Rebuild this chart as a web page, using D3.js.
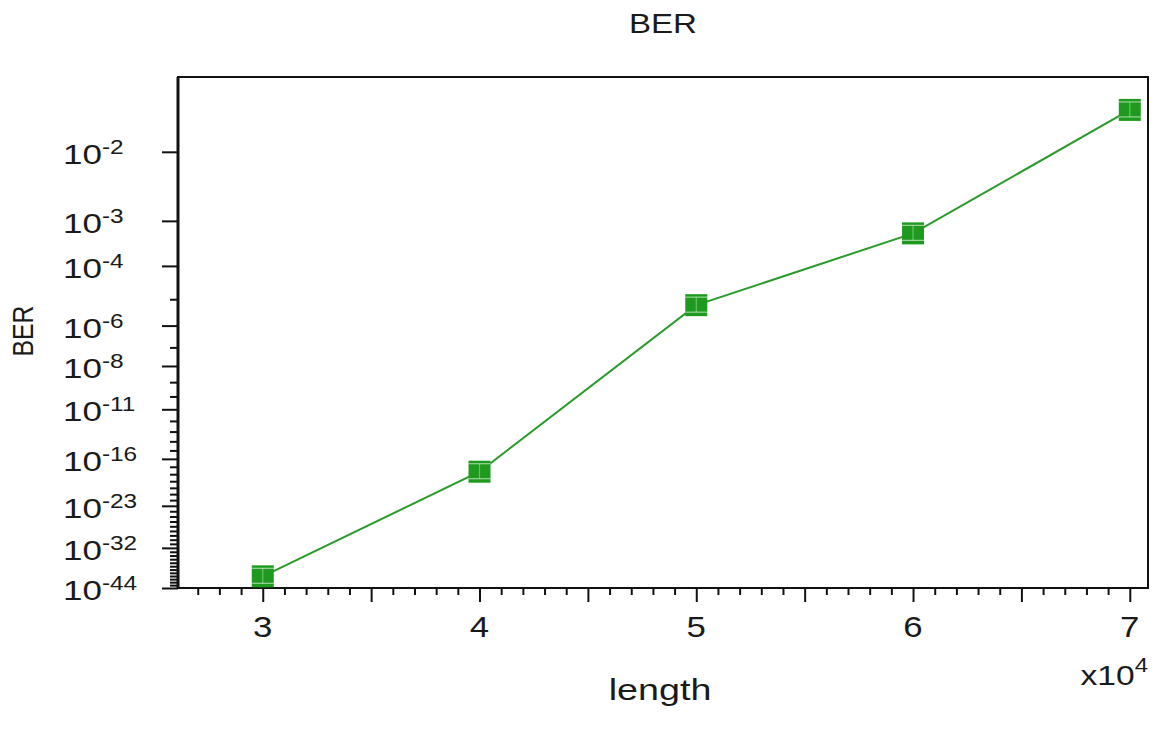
<!DOCTYPE html>
<html>
<head>
<meta charset="utf-8">
<script src="https://cdn.jsdelivr.net/npm/d3@7"></script>
<style>
  body { margin: 0; background: #fff; }
  text { font-family: "Liberation Sans", Arial, Helvetica, sans-serif; fill: #1a1a1a; }
</style>
</head>
<body>
<div id="chart"></div>
<script>
// data
const lengths = [30000, 40000, 50000, 60000, 70000];
const berValues = [8e-41, 2.2e-18, 6.2e-6, 5.7e-4, 0.0251];
const yMajorExponents = [2, 3, 4, 6, 8, 11, 16, 23, 32, 44];
const xMajorLabels = [30000, 40000, 50000, 60000, 70000];

const W = 1157, H = 739;
const plot = { left: 178, right: 1148, top: 77, bottom: 588 };

// BER axis is drawn on a log(Q) scale, Q = sqrt(2) * erfcinv(2 * BER)
function logErfc(z) {
    const t = 1 / (1 + 0.5 * z);
    return Math.log(t) + (-z * z - 1.26551223 + t * (1.00002368 + t * (0.37409196 + t * (0.09678418 +
        t * (-0.18628806 + t * (0.27886807 + t * (-1.13520398 + t * (1.48851587 +
        t * (-0.82215223 + t * 0.17087277)))))))));
}
function log10Ber(q) { return (Math.log(0.5) + logErfc(q / Math.SQRT2)) / Math.LN10; }
function qOf(ber) {
    const target = Math.log10(ber);
    let lo = 0, hi = 40;
    for (let i = 0; i < 100; i++) {
        const mid = (lo + hi) / 2;
        if (log10Ber(mid) > target) lo = mid; else hi = mid;
    }
    return (lo + hi) / 2;
}

const svg = d3.select("#chart").append("svg")
    .attr("width", W).attr("height", H);

const x = d3.scaleLinear().domain([26090, 70840]).range([plot.left, plot.right]);
const y = d3.scaleLog().domain([qOf(0.0436), qOf(1e-44)]).range([plot.top, plot.bottom]);

// frame
svg.append("rect")
    .attr("x", plot.left).attr("y", plot.top)
    .attr("width", plot.right - plot.left).attr("height", plot.bottom - plot.top)
    .attr("fill", "none").attr("stroke", "#111").attr("stroke-width", 2);

// y ticks
const majorQ = yMajorExponents.map(e => qOf(Math.pow(10, -e)));
const minorQ = d3.range(2, 45).filter(e => !yMajorExponents.includes(e)).map(e => qOf(Math.pow(10, -e)));

function styleAxis(g) {
    g.selectAll("line").attr("stroke", "#111").attr("stroke-width", 2);
    g.select(".domain").remove();
}

svg.append("g").attr("transform", `translate(${plot.left},0)`)
    .call(d3.axisLeft(y).tickValues(minorQ).tickSize(8).tickFormat(""))
    .call(styleAxis);
svg.append("g").attr("transform", `translate(${plot.left},0)`)
    .call(d3.axisLeft(y).tickValues(majorQ).tickSize(16).tickFormat(""))
    .call(styleAxis);

// x ticks
const xMinor = d3.range(27000, 70001, 1000).filter(v => v % 5000 !== 0);
const xMajor = d3.range(30000, 70001, 5000);
svg.append("g").attr("transform", `translate(0,${plot.bottom})`)
    .call(d3.axisBottom(x).tickValues(xMinor).tickSize(7).tickFormat(""))
    .call(styleAxis);
svg.append("g").attr("transform", `translate(0,${plot.bottom})`)
    .call(d3.axisBottom(x).tickValues(xMajor).tickSize(14).tickFormat(""))
    .call(styleAxis);

// thicker left axis line
svg.append("line")
    .attr("x1", plot.left).attr("x2", plot.left)
    .attr("y1", plot.top).attr("y2", plot.bottom + 1)
    .attr("stroke", "#111").attr("stroke-width", 3);

// y tick labels (10^-n)
yMajorExponents.forEach((e, i) => {
    const t = svg.append("text")
        .attr("transform", `translate(63,${y(majorQ[i]) + 12}) scale(1.25,1)`)
        .style("font-size", "28px");
    t.append("tspan").text("10");
    t.append("tspan").attr("dy", -10).style("font-size", "19.5px").text("-" + e);
});

// x tick labels
xMajorLabels.forEach(v => {
    svg.append("text")
        .attr("transform", `translate(${x(v)},637) scale(1.2,1)`)
        .attr("text-anchor", "middle")
        .style("font-size", "29px")
        .text(v / 10000);
});

// x10^4 multiplier
const mult = svg.append("text")
    .attr("transform", `translate(${plot.right},685) scale(1.2,1)`)
    .attr("text-anchor", "end")
    .style("font-size", "28px");
mult.append("tspan").text("x10");
mult.append("tspan").attr("dy", -13).style("font-size", "20px").text("4");

// titles
svg.append("text")
    .attr("transform", `translate(${(plot.left + plot.right) / 2},33) scale(1.16,1)`)
    .attr("text-anchor", "middle")
    .style("font-size", "28.5px")
    .text("BER");

svg.append("text")
    .attr("transform", `translate(${(plot.left + plot.right) / 2 - 3},700) scale(1.3,1)`)
    .attr("text-anchor", "middle")
    .style("font-size", "29px")
    .text("length");

svg.append("text")
    .attr("transform", `translate(33,331) rotate(-90)`)
    .attr("text-anchor", "middle")
    .attr("textLength", 51).attr("lengthAdjust", "spacingAndGlyphs")
    .style("font-size", "29px")
    .text("BER");

// series
const pts = lengths.map((l, i) => ({ l, q: qOf(berValues[i]) }));
const green = "#1e9b1e";

svg.append("path")
    .datum(pts)
    .attr("fill", "none").attr("stroke", "#2a9a2a").attr("stroke-width", 2)
    .attr("d", d3.line().x(d => x(d.l)).y(d => y(d.q)));

const s = 22;
const mk = svg.selectAll(".mk").data(pts).enter().append("g")
    .attr("class", "mk")
    .attr("transform", d => `translate(${x(d.l)},${y(d.q)})`);
mk.append("rect")
    .attr("x", -s / 2).attr("y", -s / 2).attr("width", s).attr("height", s)
    .attr("fill", green);
// error bar caps drawn over the marker
mk.append("line").attr("x1", -s / 2).attr("x2", s / 2).attr("y1", -s / 2 + 3).attr("y2", -s / 2 + 3)
    .attr("stroke", "rgba(255,255,255,0.55)").attr("stroke-width", 1.2);
mk.append("line").attr("x1", -s / 2).attr("x2", s / 2).attr("y1", s / 2 - 4).attr("y2", s / 2 - 4)
    .attr("stroke", "rgba(255,255,255,0.55)").attr("stroke-width", 1.2);
mk.append("line").attr("x1", 0).attr("x2", 0).attr("y1", -s / 2 + 3).attr("y2", s / 2 - 4)
    .attr("stroke", "rgba(255,255,255,0.35)").attr("stroke-width", 1.2);
</script>
</body>
</html>
